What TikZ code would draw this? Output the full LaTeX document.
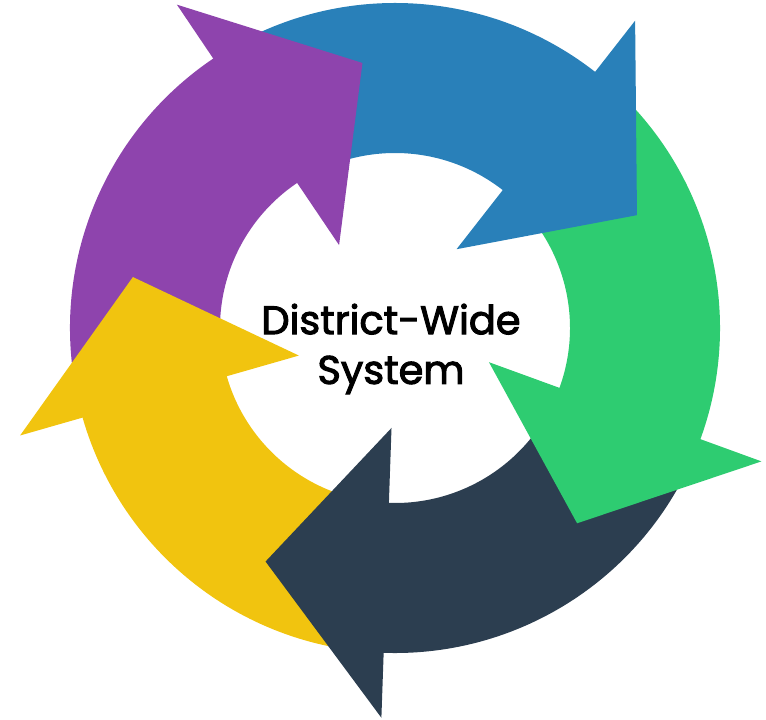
\documentclass[tikz,border=0pt]{standalone}
\usepackage{fontspec}
\newfontfamily\labelfont[FakeBold=2.5]{Poppins}
\definecolor{cycleblue}{HTML}{2980B9}
\definecolor{cyclegreen}{HTML}{2ECC71}
\definecolor{cyclenavy}{HTML}{2C3E50}
\definecolor{cycleyellow}{HTML}{F1C40F}
\definecolor{cyclepurple}{HTML}{8E44AD}

\begin{document}
\begin{tikzpicture}[x=0.02cm, y=0.02cm,
  label/.style={font=\labelfont\fontsize{22.7}{28.3}\selectfont, align=center}]
  \useasboundingbox (-395,-391) rectangle (371,328);
  % ring parts, the joins sit under the heads
  \foreach \col [count=\k from 0] in {cycleblue, cyclegreen, cyclenavy, cycleyellow, cyclepurple} {
    \pgfmathsetmacro{\base}{52-72*\k}
    \fill[fill=\col] ({\base+69}:325) arc[start angle=\base+69, end angle=\base-3, radius=325]
      -- ({\base-3}:175) arc[start angle=\base-3, end angle=\base+69, radius=175] -- cycle;
  }
  % heads on top
  \foreach \col [count=\k from 0] in {cycleblue, cyclegreen, cyclenavy, cycleyellow, cyclepurple} {
    \pgfmathsetmacro{\base}{52-72*\k}
    \fill[fill=\col] (\base:390) -- ({\base-27}:267) -- (\base:100) -- cycle;
  }
  \node[label] (system) at (-4,-21) {District-Wide\\System};
\end{tikzpicture}
\end{document}
